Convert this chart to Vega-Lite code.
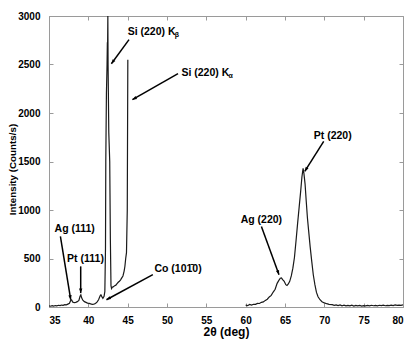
{
  "$schema": "https://vega.github.io/schema/vega-lite/v6.json",
  "width": 354,
  "height": 291,
  "autosize": "none",
  "padding": {"left": 49, "top": 16, "right": 12, "bottom": 32},
  "background": "white",
  "config": {
    "font": "Liberation Sans",
    "view": {"stroke": "#9a9a9a", "strokeWidth": 1},
    "axis": {
      "grid": false,
      "domainColor": "#9a9a9a",
      "tickColor": "#9a9a9a",
      "tickSize": -4,
      "labelFont": "Liberation Sans",
      "labelFontWeight": "bold",
      "labelFontSize": 10,
      "labelColor": "black",
      "titleFont": "Liberation Sans",
      "titleFontWeight": "bold",
      "titleFontSize": 12,
      "titleColor": "black"
    }
  },
  "datasets": {
    "xrd": [
      {"seg": "a", "t": 35.0, "i": 12}, {"seg": "a", "t": 35.2, "i": 8}, {"seg": "a", "t": 35.4, "i": 14},
      {"seg": "a", "t": 35.6, "i": 10}, {"seg": "a", "t": 35.8, "i": 15}, {"seg": "a", "t": 36.0, "i": 12},
      {"seg": "a", "t": 36.2, "i": 18}, {"seg": "a", "t": 36.4, "i": 14}, {"seg": "a", "t": 36.6, "i": 20},
      {"seg": "a", "t": 36.8, "i": 17}, {"seg": "a", "t": 37.0, "i": 24}, {"seg": "a", "t": 37.2, "i": 22},
      {"seg": "a", "t": 37.4, "i": 30}, {"seg": "a", "t": 37.6, "i": 38}, {"seg": "a", "t": 37.8, "i": 75},
      {"seg": "a", "t": 37.9, "i": 70}, {"seg": "a", "t": 38.0, "i": 52}, {"seg": "a", "t": 38.2, "i": 45},
      {"seg": "a", "t": 38.4, "i": 48}, {"seg": "a", "t": 38.6, "i": 55}, {"seg": "a", "t": 38.8, "i": 68},
      {"seg": "a", "t": 38.95, "i": 110}, {"seg": "a", "t": 39.05, "i": 125}, {"seg": "a", "t": 39.15, "i": 95},
      {"seg": "a", "t": 39.3, "i": 70}, {"seg": "a", "t": 39.5, "i": 55}, {"seg": "a", "t": 39.7, "i": 48},
      {"seg": "a", "t": 39.9, "i": 40}, {"seg": "a", "t": 40.1, "i": 38}, {"seg": "a", "t": 40.3, "i": 32},
      {"seg": "a", "t": 40.5, "i": 28}, {"seg": "a", "t": 40.7, "i": 30}, {"seg": "a", "t": 40.9, "i": 36},
      {"seg": "a", "t": 41.1, "i": 50}, {"seg": "a", "t": 41.3, "i": 75}, {"seg": "a", "t": 41.5, "i": 115},
      {"seg": "a", "t": 41.6, "i": 125}, {"seg": "a", "t": 41.7, "i": 110}, {"seg": "a", "t": 41.85, "i": 90},
      {"seg": "a", "t": 42.0, "i": 110}, {"seg": "a", "t": 42.1, "i": 160}, {"seg": "a", "t": 42.18, "i": 600},
      {"seg": "a", "t": 42.22, "i": 1500}, {"seg": "a", "t": 42.3, "i": 2200}, {"seg": "a", "t": 42.38, "i": 2500},
      {"seg": "a", "t": 42.42, "i": 2730}, {"seg": "a", "t": 42.44, "i": 2600}, {"seg": "a", "t": 42.48, "i": 3000},
      {"seg": "a", "t": 42.51, "i": 2500}, {"seg": "a", "t": 42.6, "i": 1800}, {"seg": "a", "t": 42.72, "i": 1500},
      {"seg": "a", "t": 42.8, "i": 700}, {"seg": "a", "t": 42.88, "i": 220}, {"seg": "a", "t": 42.95, "i": 190},
      {"seg": "a", "t": 43.05, "i": 205}, {"seg": "a", "t": 43.2, "i": 210}, {"seg": "a", "t": 43.35, "i": 220},
      {"seg": "a", "t": 43.5, "i": 225}, {"seg": "a", "t": 43.65, "i": 240}, {"seg": "a", "t": 43.8, "i": 255},
      {"seg": "a", "t": 43.95, "i": 265}, {"seg": "a", "t": 44.1, "i": 280}, {"seg": "a", "t": 44.25, "i": 300},
      {"seg": "a", "t": 44.4, "i": 320}, {"seg": "a", "t": 44.55, "i": 370}, {"seg": "a", "t": 44.65, "i": 420},
      {"seg": "a", "t": 44.75, "i": 500}, {"seg": "a", "t": 44.85, "i": 560}, {"seg": "a", "t": 44.95, "i": 1000},
      {"seg": "a", "t": 45.02, "i": 2550},
      {"seg": "b", "t": 60.0, "i": 20}, {"seg": "b", "t": 60.25, "i": 14}, {"seg": "b", "t": 60.5, "i": 26},
      {"seg": "b", "t": 60.75, "i": 19}, {"seg": "b", "t": 61.0, "i": 28}, {"seg": "b", "t": 61.25, "i": 27},
      {"seg": "b", "t": 61.5, "i": 37}, {"seg": "b", "t": 61.75, "i": 36}, {"seg": "b", "t": 62.0, "i": 48},
      {"seg": "b", "t": 62.25, "i": 52}, {"seg": "b", "t": 62.5, "i": 68}, {"seg": "b", "t": 62.75, "i": 80},
      {"seg": "b", "t": 63.0, "i": 104}, {"seg": "b", "t": 63.25, "i": 120}, {"seg": "b", "t": 63.5, "i": 154},
      {"seg": "b", "t": 63.75, "i": 183}, {"seg": "b", "t": 64.0, "i": 244}, {"seg": "b", "t": 64.2, "i": 272},
      {"seg": "b", "t": 64.4, "i": 296}, {"seg": "b", "t": 64.55, "i": 300}, {"seg": "b", "t": 64.7, "i": 282},
      {"seg": "b", "t": 64.9, "i": 265}, {"seg": "b", "t": 65.1, "i": 230}, {"seg": "b", "t": 65.25, "i": 222},
      {"seg": "b", "t": 65.4, "i": 235}, {"seg": "b", "t": 65.6, "i": 265}, {"seg": "b", "t": 65.8, "i": 320},
      {"seg": "b", "t": 66.0, "i": 400}, {"seg": "b", "t": 66.2, "i": 510}, {"seg": "b", "t": 66.4, "i": 680},
      {"seg": "b", "t": 66.6, "i": 860}, {"seg": "b", "t": 66.8, "i": 1030}, {"seg": "b", "t": 67.0, "i": 1200},
      {"seg": "b", "t": 67.15, "i": 1340}, {"seg": "b", "t": 67.3, "i": 1430}, {"seg": "b", "t": 67.4, "i": 1380},
      {"seg": "b", "t": 67.55, "i": 1270}, {"seg": "b", "t": 67.7, "i": 1090}, {"seg": "b", "t": 67.85, "i": 920},
      {"seg": "b", "t": 68.0, "i": 790}, {"seg": "b", "t": 68.2, "i": 620}, {"seg": "b", "t": 68.4, "i": 470},
      {"seg": "b", "t": 68.6, "i": 330}, {"seg": "b", "t": 68.8, "i": 230}, {"seg": "b", "t": 69.0, "i": 150},
      {"seg": "b", "t": 69.2, "i": 105}, {"seg": "b", "t": 69.45, "i": 75}, {"seg": "b", "t": 69.7, "i": 55},
      {"seg": "b", "t": 70.0, "i": 42}, {"seg": "b", "t": 70.3, "i": 34}, {"seg": "b", "t": 70.6, "i": 28},
      {"seg": "b", "t": 71.0, "i": 24}, {"seg": "b", "t": 71.25, "i": 17}, {"seg": "b", "t": 71.5, "i": 22},
      {"seg": "b", "t": 71.75, "i": 15}, {"seg": "b", "t": 72.0, "i": 22}, {"seg": "b", "t": 72.25, "i": 13},
      {"seg": "b", "t": 72.5, "i": 19}, {"seg": "b", "t": 72.75, "i": 12}, {"seg": "b", "t": 73.0, "i": 17},
      {"seg": "b", "t": 73.25, "i": 11}, {"seg": "b", "t": 73.5, "i": 18}, {"seg": "b", "t": 73.75, "i": 10},
      {"seg": "b", "t": 74.0, "i": 16}, {"seg": "b", "t": 74.25, "i": 11}, {"seg": "b", "t": 74.5, "i": 17},
      {"seg": "b", "t": 74.75, "i": 10}, {"seg": "b", "t": 75.0, "i": 15}, {"seg": "b", "t": 75.25, "i": 12},
      {"seg": "b", "t": 75.5, "i": 17}, {"seg": "b", "t": 75.75, "i": 11}, {"seg": "b", "t": 76.0, "i": 18},
      {"seg": "b", "t": 76.25, "i": 13}, {"seg": "b", "t": 76.5, "i": 16}, {"seg": "b", "t": 76.75, "i": 12},
      {"seg": "b", "t": 77.0, "i": 18}, {"seg": "b", "t": 77.25, "i": 14}, {"seg": "b", "t": 77.5, "i": 19},
      {"seg": "b", "t": 77.75, "i": 13}, {"seg": "b", "t": 78.0, "i": 17}, {"seg": "b", "t": 78.25, "i": 14},
      {"seg": "b", "t": 78.5, "i": 20}, {"seg": "b", "t": 78.75, "i": 15}, {"seg": "b", "t": 79.0, "i": 22},
      {"seg": "b", "t": 79.25, "i": 16}, {"seg": "b", "t": 79.5, "i": 20}, {"seg": "b", "t": 79.75, "i": 17},
      {"seg": "b", "t": 80.0, "i": 23}
    ],
    "arrows": [
      {"name": "Si Kb", "x": 45.17, "y": 2756, "x2": 42.93, "y2": 2508},
      {"name": "Si Ka", "x": 51.4, "y": 2405, "x2": 45.6, "y2": 2137},
      {"name": "Pt 220", "x": 69.92, "y": 1707, "x2": 67.51, "y2": 1398},
      {"name": "Ag 220", "x": 62.0, "y": 831, "x2": 64.24, "y2": 333},
      {"name": "Ag 111", "x": 36.45, "y": 728, "x2": 37.76, "y2": 75},
      {"name": "Pt 111", "x": 39.03, "y": 419, "x2": 39.03, "y2": 144},
      {"name": "Co", "x": 48.2, "y": 333, "x2": 42.3, "y2": 75}
    ],
    "labels": [
      {"x": 71.07, "y": 1766, "label": "Pt (220)"},
      {"x": 62.0, "y": 900, "label": "Ag (220)"},
      {"x": 38.27, "y": 804, "label": "Ag (111)"},
      {"x": 39.64, "y": 495, "label": "Pt (111)"},
      {"x": 51.4, "y": 392, "label": "Co (101̄0)"}
    ],
    "silabels": [
      {"x": 45.0, "y": 2838, "label": "Si (220) K", "sub": "β"},
      {"x": 51.83, "y": 2416, "label": "Si (220) K", "sub": "α"}
    ]
  },
  "layer": [
    {
      "data": {"name": "xrd"},
      "mark": {"type": "line", "color": "#1a1a1a", "strokeWidth": 1.2, "clip": true},
      "encoding": {
        "x": {"field": "t", "type": "quantitative", "scale": {"domain": [35, 80], "nice": false},
              "axis": {"orient": "bottom", "values": [35, 40, 45, 50, 55, 60, 65, 70, 75, 80], "title": "2θ (deg)", "labelPadding": 12, "titlePadding": 1}},
        "y": {"field": "i", "type": "quantitative", "scale": {"domain": [0, 3000], "nice": false},
              "axis": {"orient": "left", "values": [0, 500, 1000, 1500, 2000, 2500, 3000], "format": "d", "title": "Intensity (Counts/s)",
                       "labelPadding": 13, "titleX": -32, "titleY": 153, "titleBaseline": "bottom", "titleAlign": "center", "titleAngle": -90,
                       "titleFont": "Liberation Sans Narrow, Liberation Sans", "titleFontSize": 9.8}},
        "detail": {"field": "seg"}
      }
    },
    {
      "data": {"name": "xrd"},
      "mark": {"type": "line", "strokeOpacity": 0},
      "encoding": {
        "x": {"field": "t", "type": "quantitative", "axis": {"orient": "top", "values": [35, 40, 45, 50, 55, 60, 65, 70, 75, 80], "labels": false, "title": null, "domain": false}},
        "y": {"field": "i", "type": "quantitative", "axis": {"orient": "right", "values": [0, 500, 1000, 1500, 2000, 2500, 3000], "labels": false, "title": null, "domain": false}},
        "detail": {"field": "seg"}
      }
    },
    {
      "data": {"name": "arrows"},
      "mark": {"type": "rule", "color": "black", "strokeWidth": 1.5},
      "encoding": {
        "x": {"field": "x", "type": "quantitative", "axis": null},
        "y": {"field": "y", "type": "quantitative", "axis": null},
        "x2": {"field": "x2"},
        "y2": {"field": "y2"}
      }
    },
    {
      "data": {"name": "arrows"},
      "transform": [
        {"calculate": "atan2((datum.x2 - datum.x) * 354 / 45, (datum.y2 - datum.y) * 291 / 3000) * 180 / PI", "as": "ang"}
      ],
      "mark": {"type": "point", "shape": "M0,0L0.45,1.2L-0.45,1.2Z", "filled": true, "color": "black", "opacity": 1, "size": 55},
      "encoding": {
        "x": {"field": "x2", "type": "quantitative", "axis": null},
        "y": {"field": "y2", "type": "quantitative", "axis": null},
        "angle": {"field": "ang", "type": "quantitative", "scale": null}
      }
    },
    {
      "data": {"name": "labels"},
      "mark": {"type": "text", "font": "Liberation Sans", "fontWeight": "bold", "fontSize": 10.5, "color": "black", "align": "center", "baseline": "middle"},
      "encoding": {
        "x": {"field": "x", "type": "quantitative", "axis": null},
        "y": {"field": "y", "type": "quantitative", "axis": null},
        "text": {"field": "label"}
      }
    },
    {
      "data": {"name": "silabels"},
      "mark": {"type": "text", "font": "Liberation Sans", "fontWeight": "bold", "fontSize": 10.5, "color": "black", "align": "left", "baseline": "middle"},
      "encoding": {
        "x": {"field": "x", "type": "quantitative", "axis": null},
        "y": {"field": "y", "type": "quantitative", "axis": null},
        "text": {"field": "label"}
      }
    },
    {
      "data": {"name": "silabels"},
      "mark": {"type": "text", "font": "Liberation Sans", "fontWeight": "bold", "fontSize": 7, "color": "black", "align": "left", "baseline": "middle", "dx": 47, "dy": 3},
      "encoding": {
        "x": {"field": "x", "type": "quantitative", "axis": null},
        "y": {"field": "y", "type": "quantitative", "axis": null},
        "text": {"field": "sub"}
      }
    }
  ],
  "resolve": {"axis": {"x": "independent", "y": "independent"}}
}
